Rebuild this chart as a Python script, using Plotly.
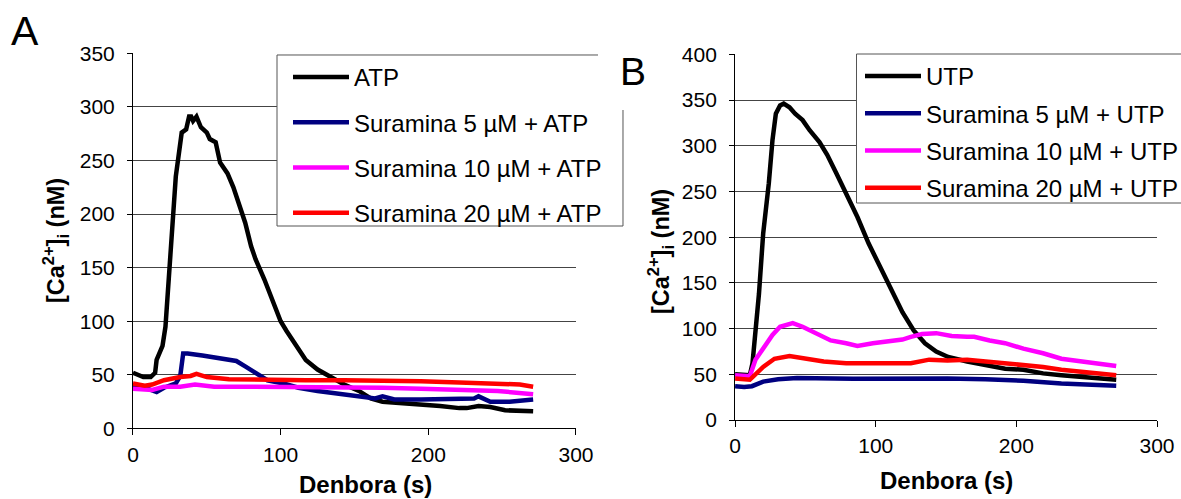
import plotly.graph_objects as go

# ---------------- Panel A (ATP) ----------------
t_atp = [0, 3, 7, 12, 15, 16, 20, 22, 24, 26, 29, 33, 36, 38, 39.4, 40.7, 43, 46, 50, 52, 56, 59, 64, 68,
         72, 76, 80, 83, 89, 94, 100, 104, 109, 117, 125, 133, 143, 153, 161, 169, 182, 195, 208, 221,
         226, 234, 242, 252, 260, 271]
y_atp = [52, 50, 48, 48, 52, 64, 77, 95, 136, 182, 235, 276, 279, 291, 291, 287, 291, 281, 276, 270, 267,
         248, 238, 225, 210, 192, 170, 158, 139, 120, 100, 91, 80, 64, 55, 49, 41, 35, 28, 25, 24, 22, 21,
         19, 19, 21, 20, 17, 17, 16]

t_a5 = [0, 8, 16, 21, 29, 32, 34, 37, 47, 58, 70, 76, 83, 91, 102, 112, 125, 138, 148, 153, 164, 169, 177,
        195, 210, 231, 234, 242, 255, 271]
y_a5 = [39, 38, 34, 38, 42, 49, 70, 70, 68, 66, 63, 58, 52, 45, 42, 38, 35, 33, 31, 30, 28, 30, 27, 27, 27,
        28, 30, 25, 25, 27]

t_a10 = [0, 13, 21, 32, 42, 55, 70, 91, 117, 143, 169, 195, 221, 247, 271]
y_a10 = [37, 36, 39, 39, 41, 39, 39, 39, 38, 38, 38, 37, 36, 35, 32]

t_a20 = [0, 8, 13, 21, 32, 39, 43, 50, 65, 91, 117, 143, 169, 195, 221, 247, 262, 271]
y_a20 = [42, 40, 41, 45, 48, 49, 51, 48, 46, 45, 45, 45, 45, 44, 43, 42, 41, 39]

# ---------------- Panel B (UTP) ----------------
t_utp = [0, 10.5, 12.4, 14.5, 17, 20, 24, 26.6, 29, 32, 34.6, 38.7, 42.7, 48, 53, 60, 65.5, 72, 79, 87, 95,
         103, 111, 119, 127, 135, 143, 151.5, 165, 178, 192, 205, 219, 232, 245.5, 259, 271]
y_utp = [50, 49, 62, 95, 138, 204, 259, 306, 335, 344, 346, 342, 335, 328, 317, 304, 290, 270, 248, 222,
         193, 168, 142, 118, 98, 84, 75, 69, 64, 60, 56, 55, 51, 49, 47, 45.5, 44]

t_b5 = [0, 6.5, 12, 20, 30.6, 44, 84, 125, 151, 178, 205, 232, 245.5, 271]
y_b5 = [37, 36, 37, 42, 44.5, 46, 45, 45.5, 45.5, 44.5, 43, 40, 39, 37.5]

t_b10 = [0, 10.5, 14.5, 21, 26.6, 32, 41, 48, 57.5, 68, 79, 87, 98, 111, 119, 125, 133, 143, 154, 165, 170,
         181, 192, 205, 219, 232, 245.5, 259, 271]
y_b10 = [49, 48, 66, 80, 93, 102, 106, 102, 95, 87, 84, 81, 84, 87, 88, 91, 94, 95, 92, 91, 91, 87, 84, 78,
         73, 67, 64, 62, 59]

t_b20 = [0, 10.5, 20, 28, 38.7, 49, 63, 79, 95, 111, 125, 138, 151, 165, 178, 192, 205, 219, 232, 245.5,
         259, 271]
y_b20 = [45.5, 44, 58, 67, 70, 67, 64, 62, 62, 63, 62, 66, 65, 66, 64, 62, 61, 58, 55, 53, 51, 49]

names_a = ["ATP", "Suramina 5 µM + ATP", "Suramina 10 µM + ATP", "Suramina 20 µM + ATP"]
names_b = ["UTP", "Suramina 5 µM + UTP", "Suramina 10 µM + UTP", "Suramina 20 µM + UTP"]
colors = ["#000000", "#000080", "#FF00FF", "#FF0000"]

x_ticks = [0, 100, 200, 300]
x_title = "<b>Denbora (s)</b>"
y_title = "<b>[Ca<sup>2+</sup>]<sub>i</sub> (nM)</b>"

FONT = "Liberation Sans, Arial, sans-serif"
LW = 4.5
W, H = 1181, 499

fig = go.Figure()
series_a = [(t_atp, y_atp), (t_a5, y_a5), (t_a10, y_a10), (t_a20, y_a20)]
series_b = [(t_utp, y_utp), (t_b5, y_b5), (t_b10, y_b10), (t_b20, y_b20)]
for i, ((t, y), n) in enumerate(zip(series_a, names_a)):
    fig.add_trace(go.Scatter(x=t, y=y, mode="lines", name=n, line=dict(color=colors[i], width=LW),
                             xaxis="x", yaxis="y", legend="legend", legendgroup="a%d" % i))
for i, ((t, y), n) in enumerate(zip(series_b, names_b)):
    fig.add_trace(go.Scatter(x=t, y=y, mode="lines", name=n, line=dict(color=colors[i], width=LW),
                             xaxis="x2", yaxis="y2", legend="legend2", legendgroup="b%d" % i))

xcommon = dict(range=[0, 300], tickvals=x_ticks, showline=True, linecolor="black", linewidth=1,
               ticks="outside", ticklen=6, tickcolor="black", showgrid=False, zeroline=False,
               tickfont=dict(size=21, color="black", family=FONT), ticklabelstandoff=1)
ycommon = dict(dtick=50, showline=True, linecolor="black", linewidth=1, ticks="outside", ticklen=5,
               tickcolor="black", showgrid=True, gridcolor="#444444", gridwidth=1, zeroline=False,
               tickfont=dict(size=21, color="black", family=FONT), ticklabelstandoff=8)

legcommon = dict(bgcolor="rgba(0,0,0,0)", borderwidth=0, xanchor="left", yanchor="top",
                 font=dict(size=24, color="black", family=FONT), itemwidth=56, traceorder="grouped")


def px(x):
    return x / W


def py(y):
    return 1 - y / H


def ann(text, x, y, size, angle=0, **kw):
    return dict(text=text, x=px(x), y=py(y), xref="paper", yref="paper", showarrow=False,
                xanchor="center", yanchor="middle", textangle=angle,
                font=dict(size=size, family=FONT, color="black"), **kw)


BORDER = "#555555"
shapes = [
    # legend A background and border (top-right corner hidden behind the "B" label)
    dict(type="rect", xref="paper", yref="paper", x0=px(277), x1=px(623), y0=py(226), y1=py(55),
         fillcolor="white", line=dict(width=0), layer="above"),
    dict(type="path", xref="paper", yref="paper",
         path="M %f,%f L %f,%f L %f,%f L %f,%f L %f,%f" % (
             px(598), py(55), px(277), py(55), px(277), py(226), px(623), py(226), px(623), py(110)),
         line=dict(color=BORDER, width=1), layer="above"),
    # legend B background and border (runs past the right edge)
    dict(type="rect", xref="paper", yref="paper", x0=px(856.5), x1=px(1200), y0=py(203), y1=py(54),
         fillcolor="white", line=dict(color=BORDER, width=1), layer="above"),
]

fig.update_layout(
    width=W, height=H,
    margin=dict(l=0, r=0, t=0, b=0, autoexpand=False),
    paper_bgcolor="white", plot_bgcolor="white",
    showlegend=True,
    xaxis=dict(domain=[0.1126, 0.4877], anchor="y", automargin=False, **xcommon),
    yaxis=dict(domain=[0.1413, 0.8932], range=[0, 350], anchor="x", automargin=False, **ycommon),
    xaxis2=dict(domain=[0.6224, 0.9797], anchor="y2", automargin=False, **xcommon),
    yaxis2=dict(domain=[0.1583, 0.8912], range=[0, 400], anchor="x2", automargin=False, **ycommon),
    legend=dict(x=px(278), y=py(55), tracegroupgap=11, indentation=10, **legcommon),
    legend2=dict(x=px(857), y=py(54), tracegroupgap=3, indentation=3, **legcommon),
    shapes=shapes,
    annotations=[
        ann(x_title, 365, 484, 24),
        ann(x_title, 946, 480, 24),
        ann(y_title, 56, 241, 23.5, angle=-90),
        ann(y_title, 661, 252, 23.5, angle=-90),
        ann("A", 25, 31, 41),
        ann("B", 633, 71, 39),
    ],
)

fig.write_html("out.html", config={"displayModeBar": False},
               post_script="document.body.style.margin='0px';")
